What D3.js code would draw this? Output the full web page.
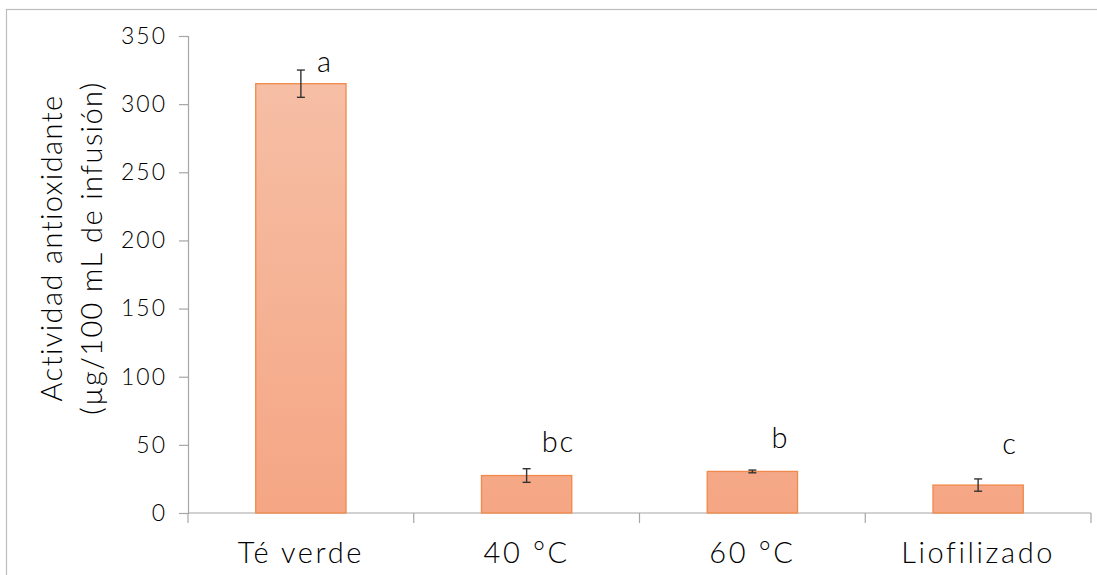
<!DOCTYPE html>
<html>
<head>
<meta charset="utf-8">
<script src="https://cdn.jsdelivr.net/npm/d3@7"></script>
<style>
  html, body { margin: 0; padding: 0; background: #fff; }
  svg { display: block; }
  text { font-family: "Lato", "Open Sans", sans-serif; font-weight: 300; fill: #000; }
</style>
</head>
<body>
<svg id="chart" width="1097" height="575"></svg>
<script>
// Antioxidant activity by sample (µg/100 mL of infusion)
const categories = ["Té verde", "40 °C", "60 °C", "Liofilizado"];
const values = [315, 27.5, 30.5, 20.5];
const errors = [10, 5, 1, 4.5];
const letters = ["a", "bc", "b", "c"];
const yTicks = [0, 50, 100, 150, 200, 250, 300, 350];
const yTitle = ["Actividad antioxidante", "(µg/100 mL de infusión)"];

const svg = d3.select("#chart");
const W = 1097, H = 575;
const margin = { left: 188, right: 6, top: 36, bottom: 62 };
const x0 = margin.left, x1 = W - margin.right;
const yBase = H - margin.bottom;

// outer chart frame
svg.append("rect")
  .attr("x", 6.5).attr("y", 9.5)
  .attr("width", W).attr("height", H)
  .attr("fill", "none").attr("stroke", "#bdbdbd").attr("stroke-width", 1.2);

const x = d3.scaleBand().domain(categories).range([x0, x1]).paddingInner(0.6).paddingOuter(0.3);
const y = d3.scaleLinear().domain([0, 350]).range([yBase, margin.top]);

// bar gradient, shared across bars in user space
const defs = svg.append("defs");
const gradS = defs.append("linearGradient").attr("id", "barGradS")
  .attr("gradientUnits", "userSpaceOnUse")
  .attr("x1", 0).attr("y1", y(350)).attr("x2", 0).attr("y2", yBase);
gradS.append("stop").attr("offset", "0%").attr("stop-color", "#f6c1a9");
gradS.append("stop").attr("offset", "100%").attr("stop-color", "#f5a684");

// y axis
const yAxis = svg.append("g").attr("transform", `translate(${x0},0)`)
  .call(d3.axisLeft(y).tickValues(yTicks).tickSize(9).tickPadding(14));
yAxis.select(".domain").attr("stroke", "#a6a6a6").attr("stroke-width", 1.2);
yAxis.selectAll(".tick line").attr("stroke", "#a6a6a6").attr("stroke-width", 1.2);
yAxis.selectAll(".tick text").style("font-size", "23px").attr("fill", "#000")
  .style("font-family", "Lato, sans-serif").style("font-weight", 300)
  .style("letter-spacing", "2px").attr("dx", 2);

// x axis with boundary ticks between categories
const xAxisG = svg.append("g");
xAxisG.append("line").attr("x1", x0).attr("x2", x1).attr("y1", yBase).attr("y2", yBase)
  .attr("stroke", "#a6a6a6").attr("stroke-width", 1.2);
const bounds = d3.range(categories.length + 1).map(i => x0 + (x1 - x0) * i / categories.length);
xAxisG.selectAll("line.b").data(bounds).join("line").attr("class", "b")
  .attr("x1", d => d).attr("x2", d => d).attr("y1", yBase).attr("y2", yBase + 10)
  .attr("stroke", "#a6a6a6").attr("stroke-width", 1.2);
xAxisG.selectAll("text").data(categories).join("text")
  .attr("x", d => x(d) + x.bandwidth() / 2).attr("y", yBase + 50)
  .attr("text-anchor", "middle").style("font-size", "29px")
  .style("letter-spacing", "2.6px").text(d => d);

// bars
svg.append("g").selectAll("rect").data(values).join("rect")
  .attr("x", (d, i) => x(categories[i]))
  .attr("y", d => y(d))
  .attr("width", x.bandwidth())
  .attr("height", d => yBase - y(d))
  .attr("fill", "url(#barGradS)")
  .attr("stroke", "#f0894a").attr("stroke-width", 1.3);

// error bars
const eb = svg.append("g").attr("stroke", "#333").attr("stroke-width", 1.4);
values.forEach((v, i) => {
  const cx = x(categories[i]) + x.bandwidth() / 2;
  const e = errors[i];
  eb.append("line").attr("x1", cx).attr("x2", cx).attr("y1", y(v + e)).attr("y2", y(v - e));
  [v + e, v - e].forEach(t => eb.append("line")
    .attr("x1", cx - 4).attr("x2", cx + 4).attr("y1", y(t)).attr("y2", y(t)));
});

// significance letters
const letterPos = [[16, 72], [15, 452], [19, 448], [24, 454]];
svg.append("g").selectAll("text").data(letters).join("text")
  .attr("x", (d, i) => x(categories[i]) + x.bandwidth() / 2 + letterPos[i][0])
  .attr("y", (d, i) => letterPos[i][1])
  .style("font-size", "29px").style("letter-spacing", "2px").text(d => d);

// y axis title (two lines)
const ty = svg.append("text")
  .attr("transform", `translate(62, 248) rotate(-90)`)
  .attr("text-anchor", "middle").style("font-size", "29px")
  .style("letter-spacing", "1.4px");
ty.append("tspan").attr("x", 0).attr("dy", 0).text(yTitle[0]);
ty.append("tspan").attr("x", 0).attr("dy", 40).text(yTitle[1]);
</script>
</body>
</html>
